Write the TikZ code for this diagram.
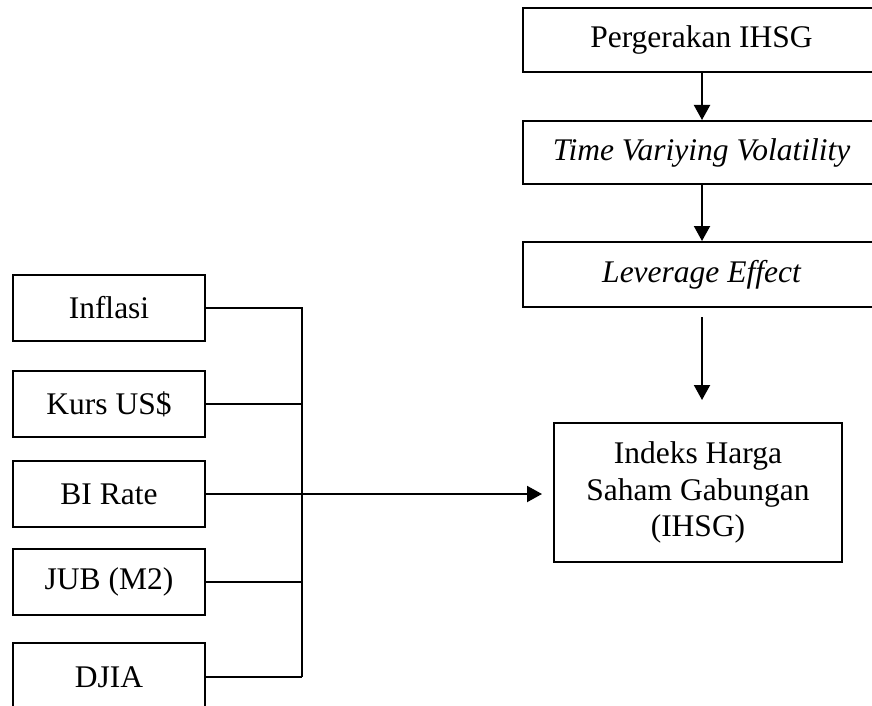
\documentclass[tikz,border=0pt]{standalone}
\usepackage{fontspec}
\setmainfont{Liberation Serif}
\usetikzlibrary{arrows.meta}
\begin{document}
\begin{tikzpicture}[x=1pt,y=-1pt,
  box/.style={draw, line width=2pt, inner sep=0pt, align=center,
    font=\fontsize{31.5}{36.5}\selectfont, text=black},
  topbox/.style={box, minimum width=357pt},
  leftbox/.style={box, minimum width=192pt, minimum height=66pt},
  conn/.style={line width=2pt},
  arr/.style={line width=2pt, -{Triangle[length=15pt,width=16pt]}}]
\useasboundingbox (0,0) rectangle (872,706);
\clip (0,0) rectangle (872,706);
% right column
\node[topbox, minimum height=64pt] (perg) at (701.5,40) {Pergerakan IHSG};
\node[topbox, minimum height=63pt] (tvv) at (701.5,152.5) {\itshape Time Variying Volatility};
\node[topbox, minimum height=65pt] (lev) at (701.5,274.5) {\itshape Leverage Effect};
\node[box, minimum width=288pt, minimum height=139pt] (ihsg) at (698,492.5) {Indeks Harga\\Saham Gabungan\\(IHSG)};
% left column
\node[leftbox] (inf) at (109,307.5) {Inflasi};
\node[leftbox] (kurs) at (109,404) {Kurs US\$};
\node[leftbox] (bi) at (109,494) {BI Rate};
\node[leftbox] (jub) at (109,582) {JUB (M2)};
\node[leftbox, minimum height=68pt] (djia) at (109,677) {DJIA};
% bus
\coordinate (bus) at (302,0);
\coordinate (levbot) at (702,317);
\draw[conn] (inf.east) -- (inf.east -| bus) -- (djia.east -| bus);
\draw[conn] (djia.east) -- (djia.east -| bus);
\draw[conn] (kurs.east) -- (kurs.east -| bus);
\draw[conn] (jub.east) -- (jub.east -| bus);
\draw[arr, shorten >=11pt] (bi.east) -- (bi.east -| ihsg.west);
% vertical arrows
\draw[arr] (perg.south -| levbot) -- (tvv.north -| levbot);
\draw[arr] (tvv.south -| levbot) -- (lev.north -| levbot);
\draw[arr, shorten >=22pt] (levbot) -- (ihsg.north -| levbot);
\end{tikzpicture}
\end{document}
